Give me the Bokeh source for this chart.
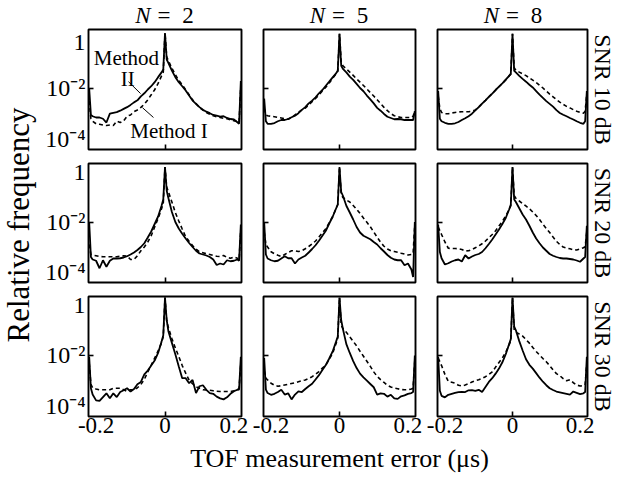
import math
from bokeh.plotting import figure
from bokeh.layouts import gridplot, row, column
from bokeh.models import Range1d, FixedTicker, Label, LogAxis
from bokeh.embed import file_html
from bokeh.resources import INLINE

FONT = "Liberation Serif"

# TOF measurement error grid (microseconds)
X_US = [-0.22, -0.215, -0.21, -0.20, -0.19, -0.18, -0.17, -0.16, -0.15, -0.14, -0.13, -0.12,
        -0.11, -0.10, -0.09, -0.08, -0.07, -0.06, -0.05, -0.04, -0.03, -0.02, -0.01, -0.005,
        0.0,
        0.005, 0.01, 0.02, 0.03, 0.04, 0.05, 0.06, 0.07, 0.08, 0.09, 0.10, 0.11, 0.12,
        0.13, 0.14, 0.15, 0.16, 0.17, 0.18, 0.19, 0.20, 0.21, 0.215, 0.22]

N_VALUES = [2, 5, 8]
SNR_DB = [10, 20, 30]

X_TICKS = [-0.2, 0.0, 0.2]
X_TICK_LABELS = {-0.2: "-0.2", 0.0: "0", 0.2: "0.2"}
Y_TICKS = [1e-4, 1e-2, 1.0]
Y_TICK_LABELS = {1e-4: "10⁻⁴", 1e-2: "10⁻²", 1.0: "1"}

# log10(relative frequency), Method II (solid) and Method I (dashed)
LOG_M2_SNR10_N2 = [-2.0, -3.05, -3.1, -3.15, -3.15, -3.2, -3.35, -3.0, -2.97, -2.94, -2.88, -2.81, -2.74, -2.65, -2.55, -2.47, -2.31, -2.19, -2.04, -1.91, -1.75, -1.55, -1.36, -1.25,
                   0.2,
                   -0.85, -0.99, -1.29, -1.55, -1.75, -1.91, -2.08, -2.28, -2.48, -2.61, -2.74, -2.84, -2.92, -2.98, -3.05, -3.08, -3.12, -3.1, -3.17, -3.21, -3.23, -3.34, -3.4, -1.7]
LOG_M1_SNR10_N2 = [-2.5, -3.2, -3.3, -3.4, -3.42, -3.45, -3.47, -3.45, -3.47, -3.3, -3.35, -3.28, -3.1, -3.05, -2.92, -2.85, -2.75, -2.62, -2.45, -2.25, -2.05, -1.8, -1.5, -1.35,
                   0.2,
                   -0.75, -0.9, -1.2, -1.45, -1.68, -1.85, -2.05, -2.25, -2.45, -2.6, -2.75, -2.86, -2.95, -3.02, -3.08, -3.12, -3.15, -3.18, -3.2, -3.24, -3.28, -3.32, -3.35, -1.9]
LOG_M2_SNR10_N5 = [-2.4, -3.3, -3.4, -3.4, -3.37, -3.3, -3.25, -3.25, -3.21, -3.14, -3.08, -2.98, -2.85, -2.74, -2.59, -2.48, -2.35, -2.19, -2.06, -1.89, -1.73, -1.56, -1.4, -1.29,
                   0.17,
                   -1.1, -1.22, -1.36, -1.53, -1.66, -1.82, -1.98, -2.11, -2.28, -2.43, -2.59, -2.77, -2.88, -3.01, -3.12, -3.17, -3.22, -3.21, -3.22, -3.25, -3.25, -3.25, -3.25, -2.9]
LOG_M1_SNR10_N5 = [-2.8, -3.05, -3.08, -3.1, -3.12, -3.15, -3.17, -3.2, -3.22, -3.15, -3.05, -2.95, -2.85, -2.78, -2.65, -2.52, -2.4, -2.25, -2.1, -1.95, -1.78, -1.6, -1.42, -1.32,
                   0.17,
                   -0.95, -1.1, -1.22, -1.35, -1.48, -1.62, -1.75, -1.88, -2.02, -2.16, -2.3, -2.45, -2.6, -2.75, -2.88, -3.0, -3.08, -3.12, -3.15, -3.15, -3.15, -3.15, -3.1, -2.9]
LOG_M2_SNR10_N8 = [-2.1, -3.2, -3.3, -3.36, -3.4, -3.4, -3.38, -3.33, -3.25, -3.18, -3.1, -3.0, -2.87, -2.74, -2.6, -2.47, -2.33, -2.2, -2.06, -1.93, -1.8, -1.65, -1.5, -1.42,
                   0.17,
                   -1.3, -1.36, -1.5, -1.62, -1.73, -1.85, -1.96, -2.1, -2.24, -2.37, -2.5, -2.61, -2.72, -2.86, -2.97, -3.04, -3.1, -3.17, -3.23, -3.3, -3.36, -3.4, -3.3, -2.1]
LOG_M1_SNR10_N8 = [-2.3, -2.8, -2.95, -3.0, -3.0, -2.97, -2.95, -2.93, -2.92, -2.92, -2.92, -2.9, -2.85, -2.74, -2.6, -2.47, -2.33, -2.2, -2.06, -1.93, -1.8, -1.66, -1.5, -1.42,
                   0.17,
                   -1.18, -1.28, -1.35, -1.42, -1.49, -1.58, -1.67, -1.76, -1.87, -1.98, -2.1, -2.22, -2.33, -2.44, -2.54, -2.63, -2.71, -2.77, -2.84, -2.9, -2.95, -2.98, -2.9, -2.2]

LOG_M2_SNR20_N2 = [-2.0, -3.4, -3.5, -3.55, -3.85, -3.53, -3.79, -3.55, -3.46, -3.46, -3.45, -3.42, -3.37, -3.3, -3.22, -3.12, -3.0, -2.85, -2.62, -2.38, -2.08, -1.78, -1.35, -1.1,
                   0.2,
                   -0.75, -1.05, -1.6, -2.0, -2.26, -2.47, -2.66, -2.84, -3.0, -3.15, -3.26, -3.3, -3.34, -3.4, -3.5, -3.72, -3.66, -3.7, -3.53, -3.57, -3.55, -3.5, -3.55, -2.1]
LOG_M1_SNR20_N2 = [-2.9, -3.3, -3.33, -3.35, -3.38, -3.39, -3.39, -3.39, -3.39, -3.39, -3.37, -3.35, -3.36, -3.5, -3.5, -3.35, -3.15, -3.0, -2.8, -2.55, -2.2, -1.86, -1.47, -1.25,
                   0.2,
                   -0.6, -0.8, -1.2, -1.62, -1.96, -2.28, -2.59, -2.77, -2.94, -3.08, -3.19, -3.23, -3.27, -3.3, -3.34, -3.37, -3.38, -3.34, -3.42, -3.45, -3.4, -3.45, -3.53, -2.3]
LOG_M2_SNR20_N5 = [-2.0, -3.3, -3.46, -3.53, -3.57, -3.55, -3.46, -3.37, -3.45, -3.45, -3.66, -3.5, -3.42, -3.35, -3.22, -3.08, -2.93, -2.75, -2.55, -2.35, -2.06, -1.79, -1.46, -1.3,
                   0.2,
                   -0.8, -0.95, -1.35, -1.62, -1.9, -2.2, -2.42, -2.55, -2.62, -2.69, -2.8, -2.9, -3.05, -3.18, -3.32, -3.43, -3.5, -3.53, -3.53, -3.73, -3.66, -3.9, -4.2, -2.0]
LOG_M1_SNR20_N5 = [-2.4, -2.9, -3.0, -3.19, -3.27, -3.33, -3.38, -3.3, -3.22, -3.15, -3.15, -3.18, -3.15, -3.07, -2.98, -2.88, -2.76, -2.6, -2.43, -2.27, -2.03, -1.79, -1.45, -1.3,
                   0.2,
                   -0.9, -1.02, -1.12, -1.2, -1.34, -1.49, -1.66, -1.84, -2.01, -2.19, -2.4, -2.61, -2.81, -2.97, -3.08, -3.15, -3.18, -3.21, -3.25, -3.28, -3.32, -3.3, -3.26, -2.1]
LOG_M2_SNR20_N8 = [-2.1, -3.2, -3.45, -3.7, -3.65, -3.58, -3.53, -3.5, -3.58, -3.33, -3.46, -3.38, -3.32, -3.28, -3.2, -3.05, -2.88, -2.7, -2.5, -2.3, -2.08, -1.84, -1.5, -1.3,
                   0.2,
                   -1.1, -1.2, -1.45, -1.7, -1.9, -2.15, -2.42, -2.66, -2.85, -3.02, -3.15, -3.28, -3.35, -3.4, -3.44, -3.46, -3.46, -3.48, -3.5, -3.54, -3.59, -3.46, -3.4, -2.15]
LOG_M1_SNR20_N8 = [-2.2, -2.35, -2.5, -2.8, -3.05, -3.06, -3.06, -3.07, -3.1, -3.16, -3.15, -3.1, -3.03, -2.96, -2.87, -2.76, -2.63, -2.5, -2.35, -2.16, -1.97, -1.76, -1.5, -1.35,
                   0.2,
                   -0.95, -1.05, -1.16, -1.26, -1.36, -1.47, -1.6, -1.74, -1.9, -2.09, -2.26, -2.42, -2.6, -2.77, -2.9, -3.0, -3.04, -3.07, -3.11, -3.12, -3.08, -3.03, -2.99, -2.4]

LOG_M2_SNR30_N2 = [-2.05, -3.3, -3.55, -3.78, -3.8, -3.65, -3.5, -3.7, -3.5, -3.65, -3.45, -3.38, -3.3, -3.43, -3.33, -3.14, -3.05, -2.75, -2.6, -2.4, -2.2, -1.9, -1.45, -1.2,
                   0.3,
                   -0.6, -1.05, -1.5, -1.95, -2.44, -2.9, -2.9, -3.1, -2.97, -3.49, -3.22, -3.18, -3.36, -3.49, -3.52, -3.63, -3.7, -3.74, -3.66, -3.52, -3.42, -3.36, -3.35, -2.05]
LOG_M1_SNR30_N2 = [-2.3, -3.15, -3.28, -3.33, -3.36, -3.36, -3.36, -3.36, -3.3, -3.3, -3.3, -3.36, -3.42, -3.36, -3.36, -3.28, -3.15, -2.95, -2.65, -2.38, -2.1, -1.82, -1.5, -1.25,
                   0.3,
                   -0.65, -0.9, -1.33, -1.7, -2.04, -2.4, -2.7, -2.98, -3.12, -3.24, -3.3, -3.36, -3.37, -3.38, -3.4, -3.42, -3.43, -3.43, -3.43, -3.43, -3.4, -3.36, -3.3, -2.3]
LOG_M2_SNR30_N5 = [-2.1, -3.35, -3.49, -3.56, -3.52, -3.45, -3.36, -3.55, -3.5, -3.74, -3.55, -3.42, -3.45, -3.33, -3.22, -3.12, -2.95, -2.78, -2.58, -2.38, -2.12, -1.84, -1.45, -1.25,
                   0.3,
                   -0.6, -0.95, -1.55, -1.9, -2.22, -2.5, -2.72, -2.87, -3.0, -3.13, -3.26, -3.55, -3.5, -3.52, -3.63, -3.56, -3.7, -3.72, -3.62, -3.58, -3.52, -3.49, -3.45, -2.0]
LOG_M1_SNR30_N5 = [-2.6, -2.9, -2.97, -3.1, -3.18, -3.22, -3.2, -3.17, -3.14, -3.11, -3.08, -3.04, -3.0, -2.97, -2.91, -2.84, -2.75, -2.64, -2.5, -2.38, -2.15, -1.91, -1.52, -1.3,
                   0.3,
                   -0.8, -0.93, -1.08, -1.26, -1.44, -1.62, -1.83, -2.03, -2.23, -2.43, -2.65, -2.83, -2.96, -3.07, -3.18, -3.25, -3.29, -3.32, -3.35, -3.36, -3.36, -3.33, -3.3, -2.2]
LOG_M2_SNR30_N8 = [-2.05, -3.4, -3.6, -3.66, -3.56, -3.52, -3.48, -3.45, -3.44, -3.45, -3.38, -3.37, -3.4, -3.36, -3.45, -3.25, -3.05, -2.9, -2.72, -2.52, -2.27, -1.95, -1.55, -1.35,
                   0.3,
                   -0.85, -1.0, -1.43, -1.8, -2.15, -2.37, -2.52, -2.7, -2.88, -3.04, -3.18, -3.3, -3.37, -3.43, -3.46, -3.49, -3.52, -3.55, -3.43, -3.48, -3.53, -3.5, -3.45, -2.05]
LOG_M1_SNR30_N8 = [-2.1, -2.25, -2.4, -2.75, -3.03, -3.06, -3.1, -3.18, -3.21, -3.17, -3.12, -3.05, -3.0, -2.96, -2.91, -2.84, -2.75, -2.65, -2.46, -2.28, -2.1, -1.87, -1.58, -1.4,
                   0.3,
                   -1.0, -1.08, -1.15, -1.23, -1.37, -1.51, -1.68, -1.84, -1.98, -2.12, -2.25, -2.4, -2.57, -2.72, -2.8, -2.92, -3.0, -2.96, -3.08, -3.17, -3.21, -3.2, -3.15, -2.3]

SERIES = {
    (10, 2): (LOG_M2_SNR10_N2, LOG_M1_SNR10_N2),
    (10, 5): (LOG_M2_SNR10_N5, LOG_M1_SNR10_N5),
    (10, 8): (LOG_M2_SNR10_N8, LOG_M1_SNR10_N8),
    (20, 2): (LOG_M2_SNR20_N2, LOG_M1_SNR20_N2),
    (20, 5): (LOG_M2_SNR20_N5, LOG_M1_SNR20_N5),
    (20, 8): (LOG_M2_SNR20_N8, LOG_M1_SNR20_N8),
    (30, 2): (LOG_M2_SNR30_N2, LOG_M1_SNR30_N2),
    (30, 5): (LOG_M2_SNR30_N5, LOG_M1_SNR30_N5),
    (30, 8): (LOG_M2_SNR30_N8, LOG_M1_SNR30_N8),
}
for key, (a, b) in SERIES.items():
    if len(a) != len(X_US) or len(b) != len(X_US):
        raise ValueError(f"length mismatch {key}: {len(a)} {len(b)}")

# annotation of panel (SNR 10 dB, N = 2)
ANNOT_TEXT = ["Method", "II", "Method I"]
ANNOT_X = [-0.112, -0.108, 0.0116]
ANNOT_LOGY = [-0.81, -1.61, -3.67]
LEADER_X0 = [-0.106, -0.0655]
LEADER_LOGY0 = [-1.73, -2.76]
LEADER_X1 = [-0.071, -0.0335]
LEADER_LOGY1 = [-2.2, -3.15]

# layout (pixels)
FRAME_W = [153, 152, 152]
BORDER_L = [50, 14, 13]
BORDER_R = [8, 9, 29]
FRAME_H = [120, 119, 120]
BORDER_T = [1, 7, 7]
BORDER_B = [7, 7, 27]
YLAB_W = 38
TITLE_H = 28
XLAB_H = 33

X_LIM = 0.222
LOG_Y_MIN, LOG_Y_MAX = -4.42, 0.34

COL_W = [BORDER_L[c] + FRAME_W[c] + BORDER_R[c] for c in range(3)]
ROW_H = [BORDER_T[r] + FRAME_H[r] + BORDER_B[r] for r in range(3)]
GRID_W = sum(COL_W)
TOTAL_H = TITLE_H + sum(ROW_H) + XLAB_H
COL_CX = [sum(COL_W[:c]) + BORDER_L[c] + FRAME_W[c] / 2 for c in range(3)]


def hide_labels(axis, ticks):
    axis.major_label_overrides = {t: "" for t in ticks}
    axis.major_label_text_font_size = "1px"
    axis.major_label_text_alpha = 0
    axis.major_label_standoff = 0


def make_panel(r, c):
    snr, n = SNR_DB[r], N_VALUES[c]
    p = figure(width=COL_W[c], height=ROW_H[r],
               x_range=Range1d(-X_LIM, X_LIM),
               y_range=Range1d(10 ** LOG_Y_MIN, 10 ** LOG_Y_MAX),
               y_axis_type="log", output_backend="svg", toolbar_location=None,
               min_border_left=BORDER_L[c], min_border_right=BORDER_R[c],
               min_border_top=BORDER_T[r], min_border_bottom=BORDER_B[r])
    p.grid.visible = False
    p.outline_line_color = "black"
    p.outline_line_width = 1.9
    p.background_fill_color = "white"
    p.border_fill_color = "white"

    xa = p.xaxis[0]
    xa.ticker = FixedTicker(ticks=X_TICKS, minor_ticks=[0.0])
    xa.axis_line_color = None
    xa.major_tick_in = 0
    xa.major_tick_out = 0
    xa.minor_tick_in = 5
    xa.minor_tick_out = 0
    xa.minor_tick_line_color = "black"
    xa.minor_tick_line_width = 1.6
    if r == 2:
        xa.major_label_overrides = X_TICK_LABELS
        xa.major_label_text_font = FONT
        xa.major_label_text_font_size = "23px"
        xa.major_label_text_color = "black"
        xa.major_label_standoff = 1
    else:
        hide_labels(xa, X_TICKS)

    ya = p.yaxis[0]
    ya.ticker = FixedTicker(ticks=Y_TICKS, minor_ticks=[1e-2])
    ya.axis_line_color = None
    ya.major_tick_in = 0
    ya.major_tick_out = 0
    ya.minor_tick_in = 5
    ya.minor_tick_out = 0
    ya.minor_tick_line_color = "black"
    ya.minor_tick_line_width = 1.6
    if c == 0:
        ya.major_label_overrides = Y_TICK_LABELS
        ya.major_label_text_font = FONT
        ya.major_label_text_font_size = "24px"
        ya.major_label_text_color = "black"
        ya.major_label_standoff = 3
    else:
        hide_labels(ya, Y_TICKS)

    if c == 2:
        ra = LogAxis(ticker=FixedTicker(ticks=[]), axis_label=f"SNR {snr} dB",
                     axis_line_color=None, major_tick_in=0, major_tick_out=0,
                     minor_tick_in=0, minor_tick_out=0, axis_label_standoff=2,
                     axis_label_text_font=FONT, axis_label_text_font_size="24px",
                     axis_label_text_font_style="normal", axis_label_text_color="black")
        hide_labels(ra, [])
        p.add_layout(ra, "right")

    solid, dashed = SERIES[(snr, n)]
    p.line(X_US, [10 ** v for v in dashed], line_color="black", line_width=1.6, line_dash="4 3")
    p.line(X_US, [10 ** v for v in solid], line_color="black", line_width=1.8)

    if r == 0 and c == 0:
        for txt, ax, ay in zip(ANNOT_TEXT, ANNOT_X, ANNOT_LOGY):
            p.add_layout(Label(x=ax, y=10 ** ay, text=txt, text_font=FONT, text_font_size="21px",
                               text_color="black", text_align="center", text_baseline="middle"))
        p.segment(x0=LEADER_X0, y0=[10 ** v for v in LEADER_LOGY0],
                  x1=LEADER_X1, y1=[10 ** v for v in LEADER_LOGY1],
                  line_color="black", line_width=1)
    return p


def blank_figure(w, h):
    f = figure(width=w, height=h, x_range=Range1d(0, w), y_range=Range1d(0, h),
               output_backend="svg", toolbar_location=None, min_border=0,
               x_axis_location=None, y_axis_location=None)
    f.min_border_left = f.min_border_right = f.min_border_top = f.min_border_bottom = 0
    f.grid.visible = False
    f.outline_line_color = None
    f.background_fill_color = "white"
    f.border_fill_color = "white"
    return f


def text_label(x, y, text, size, angle=0.0, style="normal"):
    return Label(x=x, y=y, text=text, angle=angle, text_font=FONT, text_font_style=style,
                 text_font_size=size, text_color="black", text_align="center",
                 text_baseline="middle")


panels = [[make_panel(r, c) for c in range(3)] for r in range(3)]
grid = gridplot(panels, toolbar_location=None)

# column titles
title_strip = blank_figure(GRID_W, TITLE_H)
for c, n in enumerate(N_VALUES):
    for txt, off, style in (("N", -22, "italic"), ("=", -1, "normal"), (str(n), 23, "normal")):
        title_strip.add_layout(text_label(COL_CX[c] + off, TITLE_H - 15, txt, "23px", style=style))

# x axis title
xlab = blank_figure(GRID_W, XLAB_H)
xlab.add_layout(text_label(COL_CX[1], XLAB_H - 14.5, "TOF measurement error (μs)", "26px"))

# y axis title
ylab = blank_figure(YLAB_W, TOTAL_H)
ylab.add_layout(text_label(17.5, TOTAL_H - 224.5, "Relative frequency", "31px", angle=math.pi / 2))

layout = row(ylab, column(title_strip, grid, xlab))

with open("out.html", "w", encoding="utf-8") as f:
    f.write(file_html(layout, INLINE))
